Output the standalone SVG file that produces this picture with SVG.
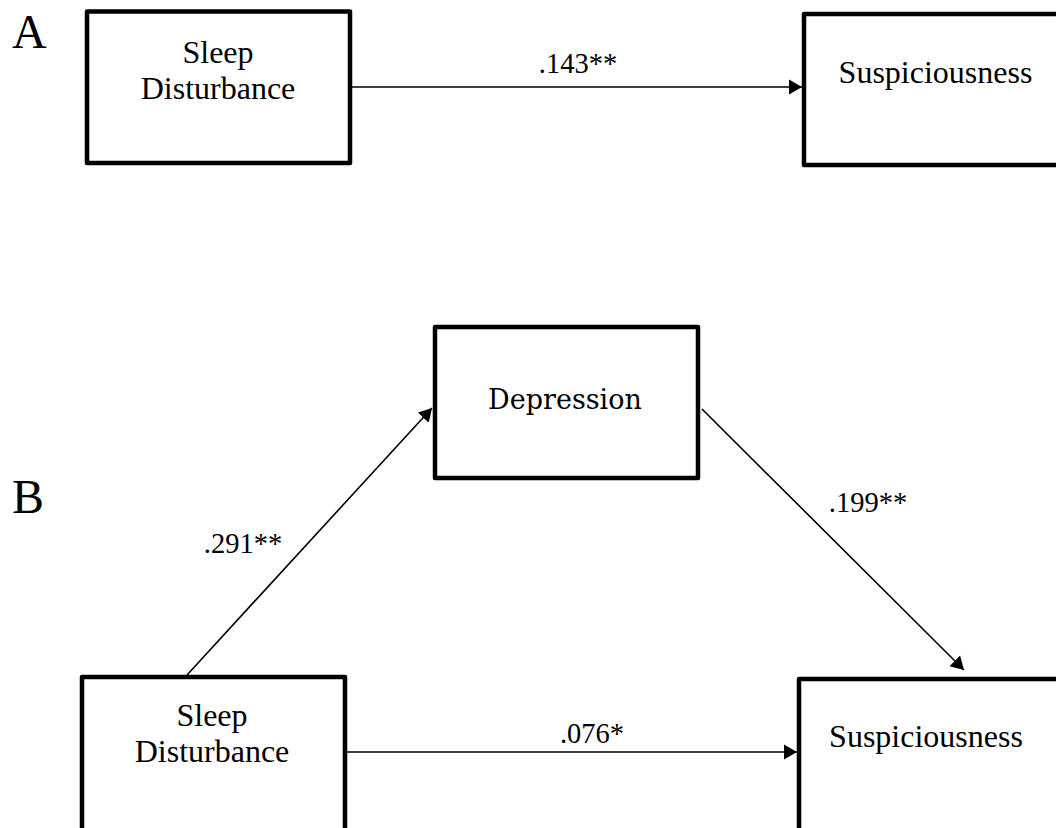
<svg xmlns="http://www.w3.org/2000/svg" width="1056" height="828" viewBox="0 0 1056 828">
<style>
.box{fill:#fff;stroke:#000;stroke-width:4.5;stroke-linejoin:round}
.t{font-family:"Liberation Serif","Times New Roman",serif;font-size:32px;fill:#000;text-anchor:middle}
.c{font-family:"DejaVu Serif",serif;font-size:27px;fill:#000;text-anchor:middle}
.lbl{font-family:"Liberation Serif","Times New Roman",serif;font-size:28.5px;fill:#000;text-anchor:middle}
.pan{font-family:"Liberation Serif","Times New Roman",serif;font-size:48px;fill:#000}
.e{stroke:#000;stroke-width:1.6;fill:none;marker-end:url(#ah)}
</style>
<defs>
<marker id="ah" markerUnits="userSpaceOnUse" markerWidth="14" markerHeight="16" refX="13" refY="7.5" orient="auto" viewBox="0 0 14 15">
<path d="M0,0 L13,7.5 L0,15 Z" fill="#000"/>
</marker>
</defs>
<rect width="1056" height="828" fill="#fff"/>
<text class="pan" x="12" y="48">A</text>
<text class="pan" x="12" y="513">B</text>
<g id="connectors">
<line class="e" x1="352" y1="87" x2="802" y2="87"/>
<line class="e" x1="187" y1="675" x2="432" y2="408"/>
<line class="e" x1="702" y1="409" x2="964" y2="670"/>
<line class="e" x1="347" y1="752" x2="797" y2="752"/>
<text class="lbl" x="578" y="73">.143**</text>
<text class="lbl" x="243" y="553">.291**</text>
<text class="lbl" x="868" y="512">.199**</text>
<text class="lbl" x="592" y="743">.076*</text>
</g>
<g id="a-sleep">
<rect class="box" x="87" y="11.5" width="263" height="151.5"/>
<text class="t" x="218" y="63">Sleep</text>
<text class="t" x="218" y="99">Disturbance</text>
</g>
<g id="a-susp">
<rect class="box" x="804" y="14" width="300" height="151"/>
<text class="t" x="935.5" y="83">Suspiciousness</text>
</g>
<g id="b-dep">
<rect class="box" x="435" y="327" width="263" height="151"/>
<text class="c" x="565" y="409">Depression</text>
</g>
<g id="b-sleep">
<rect class="box" x="82" y="677" width="263" height="200"/>
<text class="t" x="212" y="726">Sleep</text>
<text class="t" x="212" y="762">Disturbance</text>
</g>
<g id="b-susp">
<rect class="box" x="799" y="679" width="300" height="200"/>
<text class="t" x="926" y="747">Suspiciousness</text>
</g>
</svg>
